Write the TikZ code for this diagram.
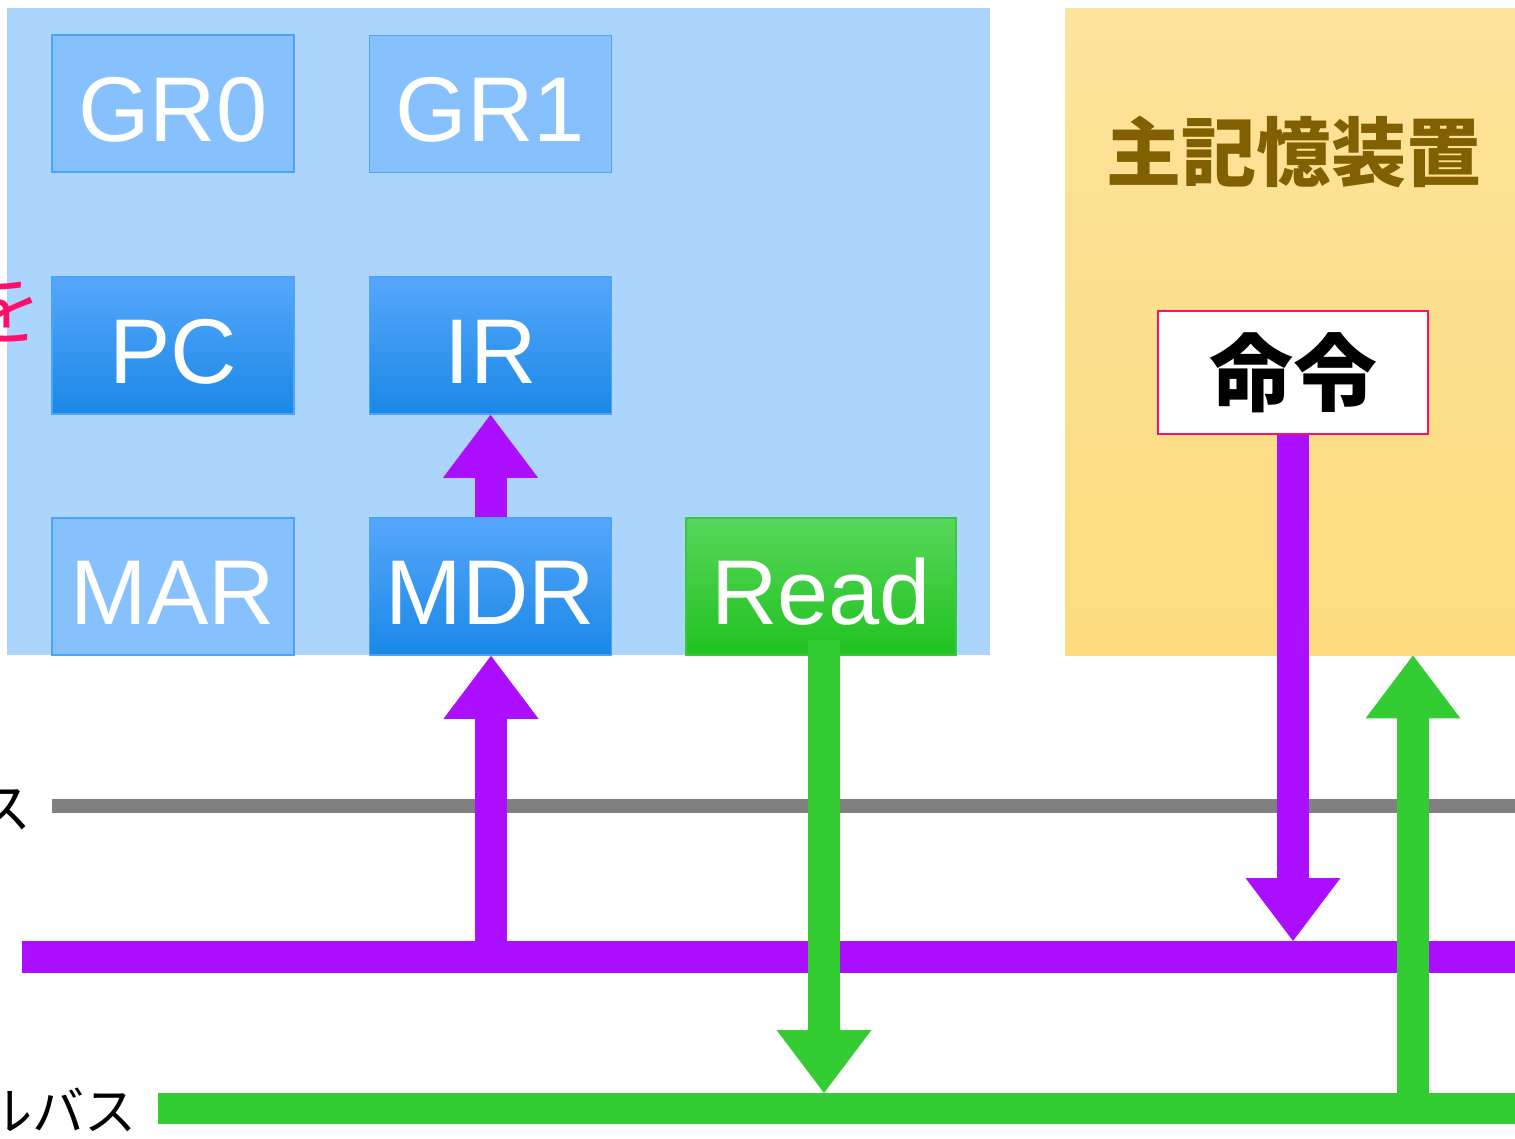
\documentclass[tikz,border=0pt]{standalone}
\usepackage{fontspec}
\usetikzlibrary{arrows.meta,shadings}
\newfontfamily\lsans{Liberation Sans}
\newfontfamily\cjk{Noto Sans CJK JP}
\definecolor{panelblue}{HTML}{ABD5FD}
\definecolor{regfill}{HTML}{87C1FD}
\definecolor{regline}{HTML}{4DA3FA}
\definecolor{acttop}{HTML}{56A7FB}
\definecolor{actmid}{HTML}{2799FC}
\definecolor{actbot}{HTML}{1A88E6}
\definecolor{grntop}{HTML}{58D65C}
\definecolor{grnbot}{HTML}{20C220}
\definecolor{grnline}{HTML}{3CC83C}
\definecolor{memtop}{HTML}{FDE39C}
\definecolor{membot}{HTML}{FCDC7E}
\definecolor{memtext}{HTML}{806000}
\definecolor{pur}{RGB}{172,14,255}
\definecolor{grn}{HTML}{33CC33}
\definecolor{busgray}{HTML}{808080}
\definecolor{pinkred}{HTML}{FF0F6A}
\tikzset{
  x=1pt, y=-1pt,
  regbox/.style={rectangle, inner sep=0pt, minimum width=242pt, minimum height=137pt,
    text height=76pt, text depth=0pt, font=\lsans\fontsize{92}{92}\selectfont, text=white},
  lightreg/.style={regbox, fill=regfill, draw=regline, line width=1.5pt},
  activereg/.style={regbox, top color=acttop, middle color=actmid, bottom color=actbot, draw=regline, line width=1.5pt},
  readbox/.style={regbox, minimum width=270pt, top color=grntop, bottom color=grnbot, draw=grnline, line width=1.5pt},
  parrow/.style={draw=pur, line width=32pt, -{Triangle[length=63pt,width=95pt,line width=0pt]}},
  garrow/.style={draw=grn, line width=32pt, -{Triangle[length=63pt,width=95pt,line width=0pt]}},
}
\begin{document}
\begin{tikzpicture}
\useasboundingbox (0,0) rectangle (1515,1139);
% panels
\node[rectangle, inner sep=0pt, fill=panelblue, minimum width=983pt, minimum height=647pt, anchor=north west] (cpu) at (7,8) {};
\node[rectangle, inner sep=0pt, top color=memtop, bottom color=membot, minimum width=460pt, minimum height=647pt, anchor=north west] (mem) at (1065,8) {};
\node[font=\cjk\bfseries\fontsize{75}{75}\selectfont, text=memtext] (memlabel) at (1294,152) {主記憶装置};
\node[rectangle, fill=white, draw=pinkred, line width=2pt, minimum width=270pt, minimum height=123pt, inner sep=0pt,
  font=\cjk\bfseries\fontsize{84}{84}\selectfont] (meirei) at (1293,372.5) {命令};
% registers
\node[lightreg] (gr0) at (173,103.5) {GR0};
\node[lightreg] (gr1) at (490.5,104) {GR1};
\node[activereg] (pc) at (173,345.5) {PC};
\node[activereg] (ir) at (490.5,345.5) {IR};
\node[lightreg] (mar) at (173,586.5) {MAR};
\node[activereg] (mdr) at (490.5,586.5) {MDR};
\node[readbox] (read) at (821,586.5) {Read};
% cut-off labels on the left
\node[font=\cjk\fontsize{80}{80}\selectfont, text=pinkred, anchor=east, inner sep=0pt] (wo) at (43,308) {を};
\node[font=\cjk\fontsize{55}{55}\selectfont, anchor=east, inner sep=0pt] (lblA) at (32,810) {ス};
\node[font=\cjk\fontsize{52}{52}\selectfont, anchor=east, inner sep=0pt] (lblC) at (137,1110) {ルバス};
% buses
\coordinate (gyL) at (52,806);
\coordinate (gyR) at (1515,806);
\coordinate (puL) at (22,957);
\coordinate (puR) at (1515,957);
\coordinate (puT) at (0,941);
\coordinate (gnL) at (158,1108.5);
\coordinate (gnR) at (1515,1108.5);
\coordinate (gnT) at (0,1093);
\draw[busgray, line width=14pt] (gyL) -- (gyR);
\draw[pur, line width=32pt] (puL) -- (puR);
\draw[grn, line width=31pt] (gnL) -- (gnR);
% connectors
\coordinate (mdrin) at (491,957);
\coordinate (rdout) at (824,640);
\coordinate (memin) at (1413,1108.5);
\draw[parrow] (mdr.north) -- (ir.south);
\draw[parrow] (mdrin) -- (mdrin |- mdr.south);
\draw[parrow] (meirei.south) -- (meirei.south |- puT);
\draw[garrow] (rdout) -- (rdout |- gnT);
\draw[garrow] (memin) -- (memin |- mem.south);
\end{tikzpicture}
\end{document}
